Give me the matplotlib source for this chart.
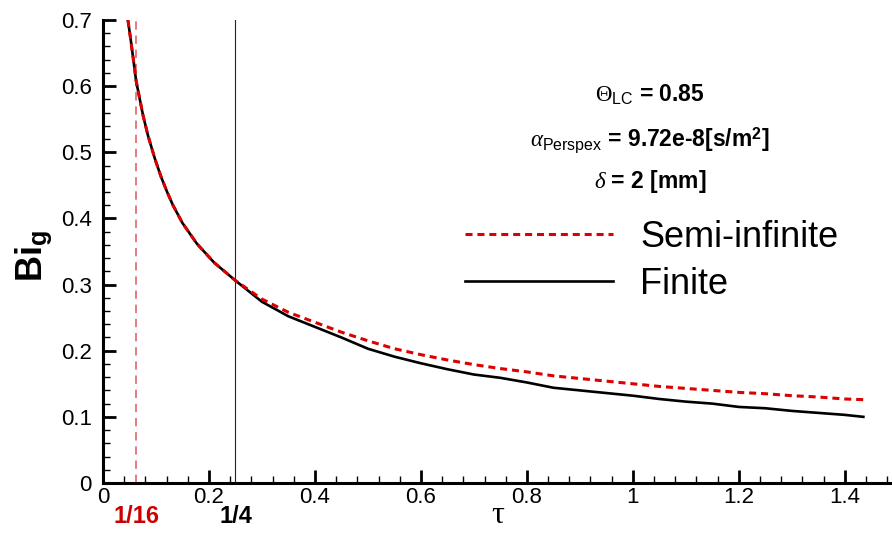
import matplotlib
matplotlib.use("Agg")
import matplotlib.pyplot as plt
from matplotlib.ticker import MultipleLocator
from matplotlib.transforms import blended_transform_factory

plt.rcParams['font.family'] = ['Liberation Sans', 'DejaVu Sans']
plt.rcParams['mathtext.fontset'] = 'custom'
plt.rcParams['mathtext.rm'] = 'Liberation Serif'
plt.rcParams['mathtext.bf'] = 'Liberation Sans:bold'
plt.rcParams['mathtext.it'] = 'Liberation Serif:italic'
plt.rcParams['mathtext.sf'] = 'Liberation Sans'

# ---- data ----
tau = [0.047, 0.052, 0.057, 0.0625, 0.07, 0.0755, 0.085, 0.098, 0.11, 0.121, 0.132,
       0.15, 0.177, 0.21, 0.25, 0.30, 0.35, 0.40, 0.45, 0.50, 0.55, 0.60, 0.65,
       0.70, 0.75, 0.80, 0.85, 0.90, 0.95, 1.00, 1.05, 1.10, 1.15, 1.20, 1.25,
       1.30, 1.35, 1.40, 1.435]
bi_finite = [0.700, 0.672, 0.642, 0.608, 0.578, 0.556, 0.525, 0.490, 0.462, 0.440,
             0.420, 0.393, 0.362, 0.333, 0.306, 0.274, 0.252, 0.236, 0.220, 0.203,
             0.191, 0.181, 0.172, 0.164, 0.159, 0.152, 0.144, 0.140, 0.136, 0.132,
             0.127, 0.123, 0.120, 0.115, 0.113, 0.109, 0.106, 0.103, 0.100]
bi_semi = [0.700, 0.672, 0.642, 0.608, 0.578, 0.556, 0.525, 0.490, 0.462, 0.440,
           0.420, 0.393, 0.362, 0.333, 0.306, 0.278, 0.258, 0.243, 0.228, 0.215,
           0.203, 0.194, 0.186, 0.179, 0.173, 0.168, 0.162, 0.158, 0.154, 0.150,
           0.146, 0.143, 0.140, 0.137, 0.135, 0.132, 0.130, 0.127, 0.126]
vlines_x = [1/16, 1/4]
vline_labels = ["1/16", "1/4"]
series_labels = ["Semi-infinite", "Finite"]
annot_lines = [r"$\Theta_{\mathsf{LC}}$ = 0.85",
               r"$\alpha_{\mathsf{Perspex}}$ = 9.72e-8[s/m$^{\mathbf{2}}$]",
               r"$\delta$ = 2 [mm]"]

fig = plt.figure(figsize=(8.92, 5.33), dpi=100)
ax = fig.add_axes([103/892, 1-483/533, 789/892, 463/533])

ax.axvline(vlines_x[0], color='#e06666', lw=1.2, ls=(0, (5, 3.5)), zorder=1)
ax.axvline(vlines_x[1], color='#222222', lw=0.8, zorder=1)

l_semi, = ax.plot(tau, bi_semi, color='#dd0000', lw=2.2, ls=(0, (2.3, 1.6)), zorder=3,
                  label=series_labels[0])
l_fin, = ax.plot(tau, bi_finite, color='black', lw=1.9, zorder=2, label=series_labels[1])

ax.set_xlim(0, 1.489)
ax.set_ylim(0, 0.7)
ax.xaxis.set_major_locator(MultipleLocator(0.2))
ax.xaxis.set_minor_locator(MultipleLocator(0.04))
ax.yaxis.set_major_locator(MultipleLocator(0.1))
ax.yaxis.set_minor_locator(MultipleLocator(0.02))
ax.xaxis.set_major_formatter(plt.FuncFormatter(lambda v, p: f"{v:g}"))
ax.yaxis.set_major_formatter(plt.FuncFormatter(lambda v, p: f"{v:g}"))

for s in ['top', 'right']:
    ax.spines[s].set_visible(False)
for s in ['left', 'bottom']:
    ax.spines[s].set_linewidth(2.2)

ax.tick_params(which='major', direction='in', length=9.5, width=2.0, labelsize=16)
ax.tick_params(which='minor', direction='in', length=5, width=1.0)
ax.tick_params(axis='y', which='major', pad=8)
ax.tick_params(axis='x', which='major', pad=3)

ax.set_ylabel(r"Bi$_{\mathbf{g}}$", fontsize=26, fontweight='bold')
ax.yaxis.set_label_coords(-0.062, 0.49)
ax.text(0.5, -0.071, "τ", transform=ax.transAxes, fontsize=23,
        family='Liberation Serif', ha='center', va='center')

trans = blended_transform_factory(ax.transData, ax.transAxes)
ax.text(vlines_x[0], -0.073, vline_labels[0], transform=trans, color='#cc0000',
        fontsize=17, fontweight='bold', ha='center', va='center')
ax.text(vlines_x[1], -0.073, vline_labels[1], transform=trans, color='black',
        fontsize=17, fontweight='bold', ha='center', va='center')

ys = [0.838, 0.741, 0.652]
for t, y in zip(annot_lines, ys):
    ax.text(0.693, y, t, transform=ax.transAxes, fontsize=16.5, fontweight='bold',
            ha='center', va='center')

leg = ax.legend(handles=[l_semi, l_fin], loc='center left',
                bbox_to_anchor=(465/892, 1-261/533), bbox_transform=fig.transFigure,
                frameon=False, fontsize=26, handlelength=4.1, handletextpad=0.75,
                labelspacing=0.33, borderpad=0, borderaxespad=0)

fig.savefig("out.png", dpi=100)
